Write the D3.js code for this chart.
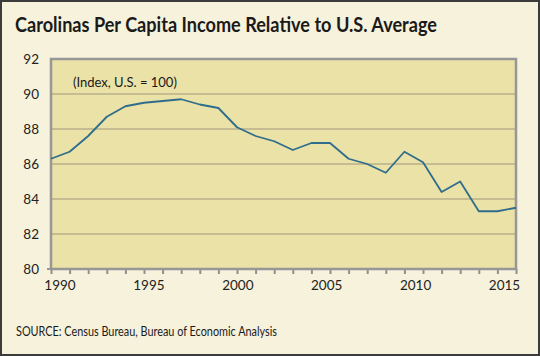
<!DOCTYPE html>
<html>
<head>
<meta charset="utf-8">
<script src="https://cdn.jsdelivr.net/npm/d3@7"></script>
<style>
html,body{margin:0;padding:0;background:#f7f2dc;}
svg{display:block;}
</style>
</head>
<body>
<svg id="chart" width="540" height="356"></svg>
<script>
const years = [1990,1991,1992,1993,1994,1995,1996,1997,1998,1999,2000,2001,2002,2003,2004,2005,2006,2007,2008,2009,2010,2011,2012,2013,2014,2015];
const values = [86.3,86.7,87.6,88.7,89.3,89.5,89.6,89.7,89.4,89.2,88.1,87.6,87.3,86.8,87.2,87.2,86.3,86.0,85.5,86.7,86.1,84.4,85.0,83.3,83.3,83.5];
const yTicks = [80,82,84,86,88,90,92];
const xLabels = [1990,1995,2000,2005,2010,2015];
const title = "Carolinas Per Capita Income Relative to U.S. Average";
const unitNote = "(Index, U.S. = 100)";
const source = "SOURCE: Census Bureau, Bureau of Economic Analysis";

const svg = d3.select("#chart");
const W = 540, H = 356;
const m = {left: 51, right: 24, top: 59, bottom: 87};
const FONT = "Lato, 'Open Sans', sans-serif";

svg.append("rect").attr("x",1).attr("y",1).attr("width",W-2).attr("height",H-2)
  .attr("fill","#f7f2dc").attr("stroke","#3b3b3b").attr("stroke-width",2);

const x = d3.scaleLinear().domain([1990,2015]).range([m.left, W - m.right]);
// label positions in the original are slightly inset from the tick positions
const xl = d3.scaleLinear().domain([1990,2015]).range([m.left + 8.5, W - m.right - 12]);
const y = d3.scaleLinear().domain([80,92]).range([H - m.bottom, m.top]);

svg.append("rect").attr("x",x(1990)).attr("y",y(92))
  .attr("width",x(2015)-x(1990)).attr("height",y(80)-y(92))
  .attr("fill","#ebe2a7");

// gridlines
svg.append("g").selectAll("line").data(yTicks.filter(d=>d>80 && d<92)).join("line")
  .attr("x1",x(1990)).attr("x2",x(2015)).attr("y1",d=>y(d)).attr("y2",d=>y(d))
  .attr("stroke","#b9b08a").attr("stroke-width",1.5);

// title
svg.append("text").attr("x",15).attr("y",32).text(title)
  .attr("font-family",FONT).attr("font-weight","bold")
  .attr("font-size",20).attr("fill","#1a1a1a")
  .attr("textLength",422).attr("lengthAdjust","spacingAndGlyphs");

// y axis
const yAxis = d3.axisLeft(y).tickValues(yTicks).tickSize(0).tickPadding(12);
const gy = svg.append("g").attr("transform",`translate(${x(1990)},0)`).call(yAxis);
gy.select(".domain").remove();
gy.selectAll("text").attr("font-family",FONT).attr("font-size",13.5).attr("fill","#222");

// x axis ticks
const xAxis = d3.axisBottom(x).tickValues(years).tickSize(5).tickFormat("");
const gx = svg.append("g").attr("transform",`translate(0,${y(80)})`).call(xAxis);
gx.select(".domain").remove();
gx.selectAll("line").attr("stroke","#8f8f8f").attr("stroke-width",2);

// x axis labels
const xLabAxis = d3.axisBottom(xl).tickValues(xLabels).tickSize(0).tickPadding(0).tickFormat(d3.format("d"));
const gxl = svg.append("g").attr("transform",`translate(0,${y(80)})`).call(xLabAxis);
gxl.select(".domain").remove();
gxl.selectAll("text").attr("font-family",FONT).attr("font-size",13.5).attr("fill","#222").attr("dy","1.55em");

// plot frame
svg.append("rect").attr("x",x(1990)).attr("y",y(92))
  .attr("width",x(2015)-x(1990)).attr("height",y(80)-y(92))
  .attr("fill","none").attr("stroke","#979797").attr("stroke-width",2.5);
svg.append("line").attr("x1",x(1990)-4).attr("x2",x(1990)).attr("y1",y(80)).attr("y2",y(80))
  .attr("stroke","#979797").attr("stroke-width",2);

// line
const line = d3.line().x((d,i)=>x(years[i])).y(d=>y(d));
svg.append("path").datum(values).attr("d",line)
  .attr("fill","none").attr("stroke","#2f6d8c").attr("stroke-width",1.8).attr("stroke-linejoin","round");

// note
svg.append("text").attr("x",73).attr("y",87).text(unitNote)
  .attr("font-family",FONT).attr("font-size",13).attr("fill","#1a1a1a");

// source
svg.append("text").attr("x",16).attr("y",336).text(source)
  .attr("font-family",FONT).attr("font-size",13.5).attr("fill","#1a1a1a")
  .attr("textLength",261).attr("lengthAdjust","spacingAndGlyphs");
</script>
</body>
</html>
